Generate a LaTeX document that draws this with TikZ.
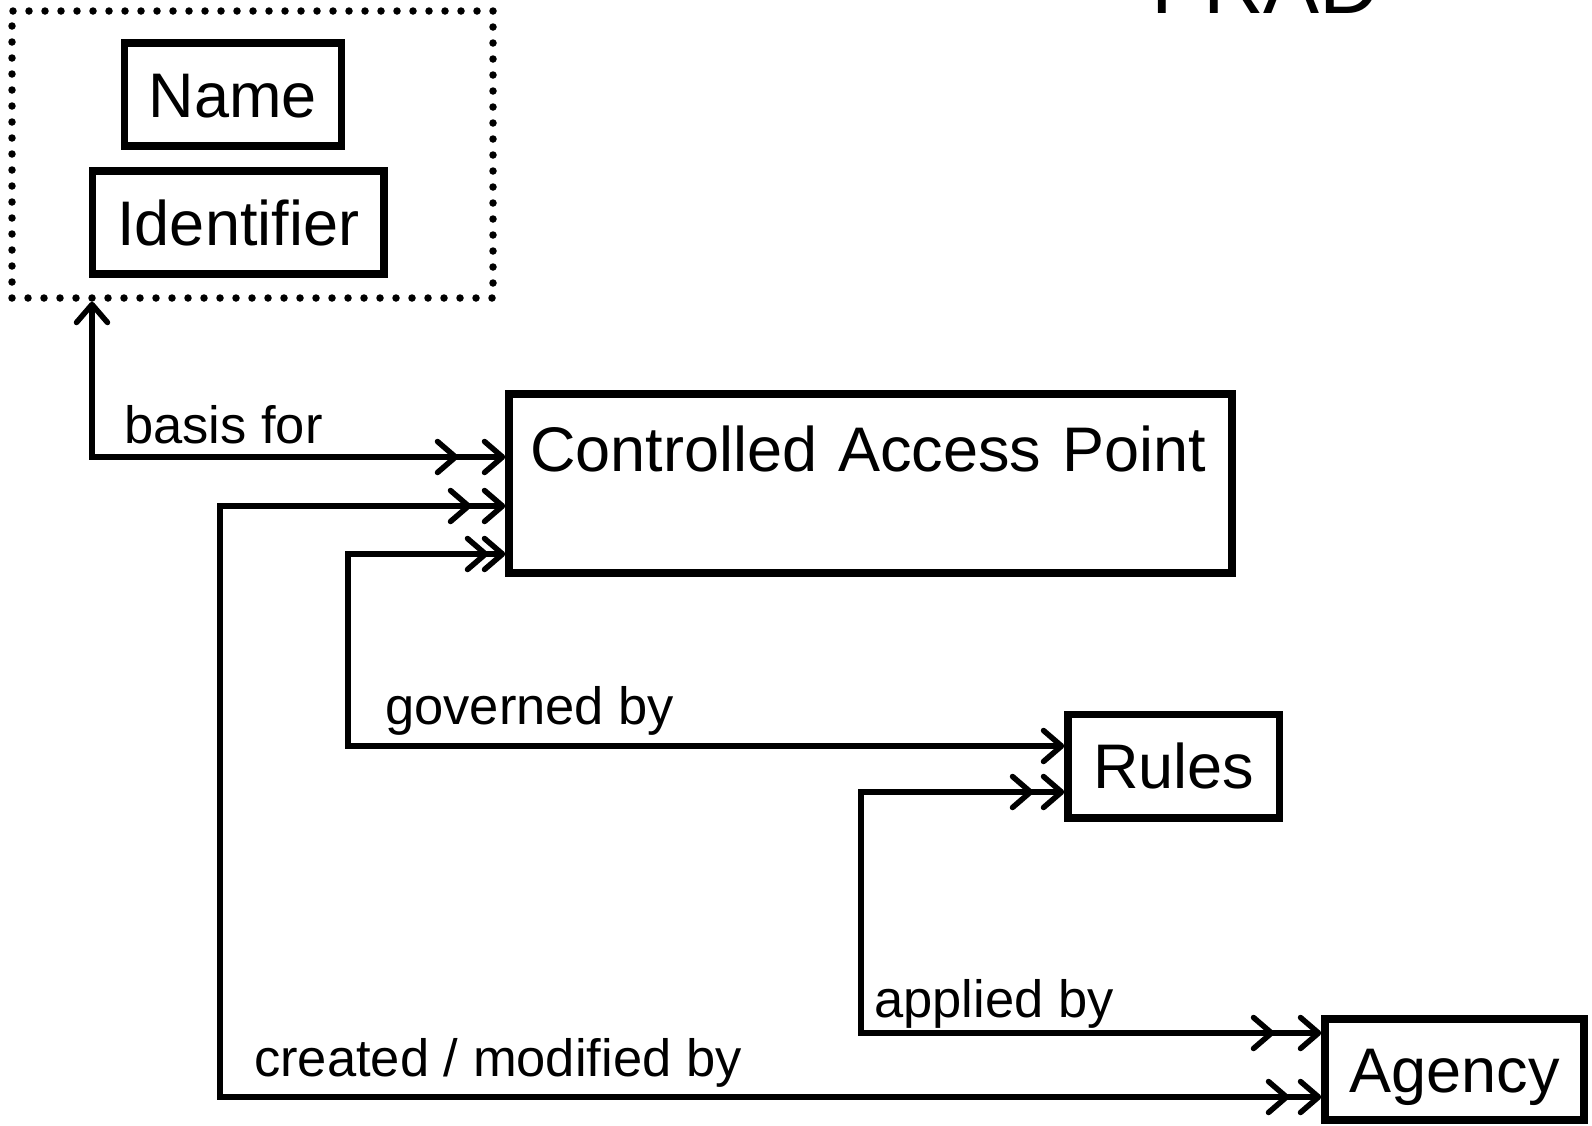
\documentclass[tikz,border=0pt]{standalone}
\usepackage{fontspec}
\setmainfont{Liberation Sans}
\usetikzlibrary{arrows.meta}
\tikzset{
  Bb/.tip={Straight Barb[length=18pt,width=31pt,round]},
  box/.style={draw, line width=7.5pt, outer sep=3.75pt, inner sep=0pt,
    font=\fontsize{63}{63}\selectfont, text height=45.1pt, text depth=0pt},
  grpbox/.style={draw, line width=7.5pt, dash pattern=on 0pt off 16pt, line cap=round,
    inner sep=0pt, outer sep=3.75pt},
  lbl/.style={font=\fontsize{52.5}{52.5}\selectfont, anchor=base west, inner sep=0pt},
  conn/.style={line width=5.5pt},
}
\begin{document}
\begin{tikzpicture}[x=1pt,y=-1pt]
\clip (0,0) rectangle (1592,1125);
\fill[white] (0,0) rectangle (1592,1125);

\node[font=\fontsize{84}{84}\selectfont, anchor=base, inner sep=0pt] (title) at (1266,13) {FRAD};

\node[grpbox, minimum width=481pt, minimum height=287pt] (grp) at (252.5,154.5) {};
\node[box, minimum width=217pt, minimum height=103pt] (name) at (233,94.5) {Name};
\node[box, minimum width=291.5pt, minimum height=103pt] (idf) at (238.25,222.5) {Identifier};

\node[box, minimum width=723pt, minimum height=179pt, text width=681pt, align=left,
  inner xsep=21pt, inner ysep=32pt, text depth=70pt] (cap) at (870.5,483.5) {Controlled Access Point};
\node[box, minimum width=211.5pt, minimum height=103.5pt] (rules) at (1173.75,766.25) {Rules};
\node[box, minimum width=259pt, minimum height=101pt] (agency) at (1454.5,1069.5) {Agency};

\draw[conn,{Bb[]Bb[sep=23.5pt]}-{Bb}] (cap.west |- 0,457) -| (grp.south -| 92,0);
\draw[conn,{Bb[]Bb[sep=10.5pt]}-{Bb[sep=8.5pt]Bb[]}] (cap.west |- 0,506) -| (220,1097) -- (agency.west |- 0,1097);
\draw[conn,{Bb[]Bb[sep=-6.5pt]}-{Bb}] (cap.west |- 0,554) -| (348,746) -- (rules.west |- 0,746);
\draw[conn,{Bb[]Bb[sep=7.5pt]}-{Bb[sep=23.5pt]Bb[]}] (rules.west |- 0,792) -| (861,1033) -- (agency.west |- 0,1033);

\node[lbl] (l1) at (124,443) {basis for};
\node[lbl] (l2) at (385,724) {governed by};
\node[lbl] (l3) at (874,1017) {applied by};
\node[lbl] (l4) at (254,1076) {created / modified by};
\end{tikzpicture}
\end{document}
